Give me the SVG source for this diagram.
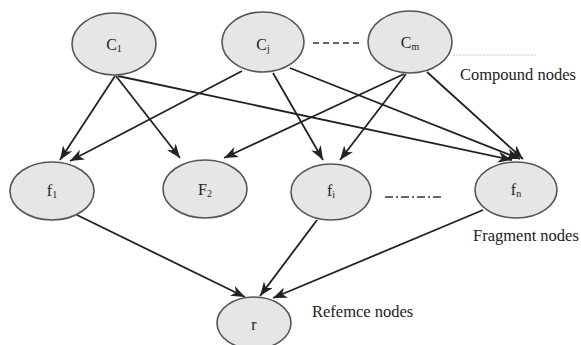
<svg xmlns="http://www.w3.org/2000/svg" width="581" height="345" viewBox="0 0 581 345">
<style>
.node{fill:#e6e6e6;stroke:#555;stroke-width:1.6}
.lbl{font-family:'Liberation Serif','DejaVu Serif',serif;font-size:16px;fill:#222;text-anchor:middle}
.cap{font-family:'Liberation Serif','DejaVu Serif',serif;font-size:16.5px;fill:#222}
.edge{stroke:#222;stroke-width:1.8;fill:none;marker-end:url(#arr)}
</style>
<defs>
<marker id="arr" markerUnits="userSpaceOnUse" markerWidth="16" markerHeight="12" refX="14" refY="5.5" orient="auto">
<path d="M0,0 L14,5.5 L0,11 L4,5.5 z" fill="#222"/>
</marker>
</defs>
<g id="connectors">
<path class="edge" d="M115,76 L60,160"/>
<path class="edge" d="M116,76 L180,158"/>
<path class="edge" d="M118,76 L512,160"/>
<path class="edge" d="M242,71 L70,161"/>
<path class="edge" d="M273,73 L323,160"/>
<path class="edge" d="M290,68 L520,159"/>
<path class="edge" d="M404,74 L224,158"/>
<path class="edge" d="M406,74 L340,160"/>
<path class="edge" d="M427,72 L523,159"/>
<path class="edge" d="M77,215 L245,297"/>
<path class="edge" d="M317,220 L260,296"/>
<path class="edge" d="M483,210 L273,298"/>
<line x1="313" y1="43" x2="360" y2="43" stroke="#333" stroke-width="1.6" stroke-dasharray="6,4"/>
<line x1="385" y1="197" x2="442" y2="197" stroke="#333" stroke-width="1.6" stroke-dasharray="8,3,2,3"/>
<line x1="453" y1="55" x2="537" y2="55" stroke="#ccc" stroke-width="1" stroke-dasharray="2,1"/>
</g>
<g id="C1"><ellipse class="node" cx="114" cy="44" rx="42" ry="31"/><text class="lbl" x="114" y="50">C<tspan font-size="10" dy="2">1</tspan></text></g>
<g id="Cj"><ellipse class="node" cx="263" cy="42" rx="41" ry="30"/><text class="lbl" x="263" y="50">C<tspan font-size="10" dy="2">j</tspan></text></g>
<g id="Cm"><ellipse class="node" cx="410" cy="42" rx="42" ry="31"/><text class="lbl" x="410" y="48">C<tspan font-size="10" dy="2">m</tspan></text></g>
<g id="f1"><ellipse class="node" cx="52" cy="191" rx="42" ry="29"/><text class="lbl" x="52" y="196">f<tspan font-size="10" dy="2">1</tspan></text></g>
<g id="F2"><ellipse class="node" cx="205" cy="189" rx="42" ry="29"/><text class="lbl" x="205" y="195">F<tspan font-size="10" dy="2">2</tspan></text></g>
<g id="fi"><ellipse class="node" cx="331" cy="192" rx="40" ry="28"/><text class="lbl" x="331" y="196">f<tspan font-size="10" dy="2">i</tspan></text></g>
<g id="fn"><ellipse class="node" cx="516" cy="190" rx="41" ry="28"/><text class="lbl" x="516" y="195">f<tspan font-size="10" dy="2">n</tspan></text></g>
<g id="r"><ellipse class="node" cx="254" cy="323" rx="37" ry="26"/><text class="lbl" x="254" y="330">r</text></g>
<text class="cap" x="460" y="80">Compound nodes</text>
<text class="cap" x="473" y="241">Fragment nodes</text>
<text class="cap" x="312" y="317">Refemce nodes</text>
</svg>
